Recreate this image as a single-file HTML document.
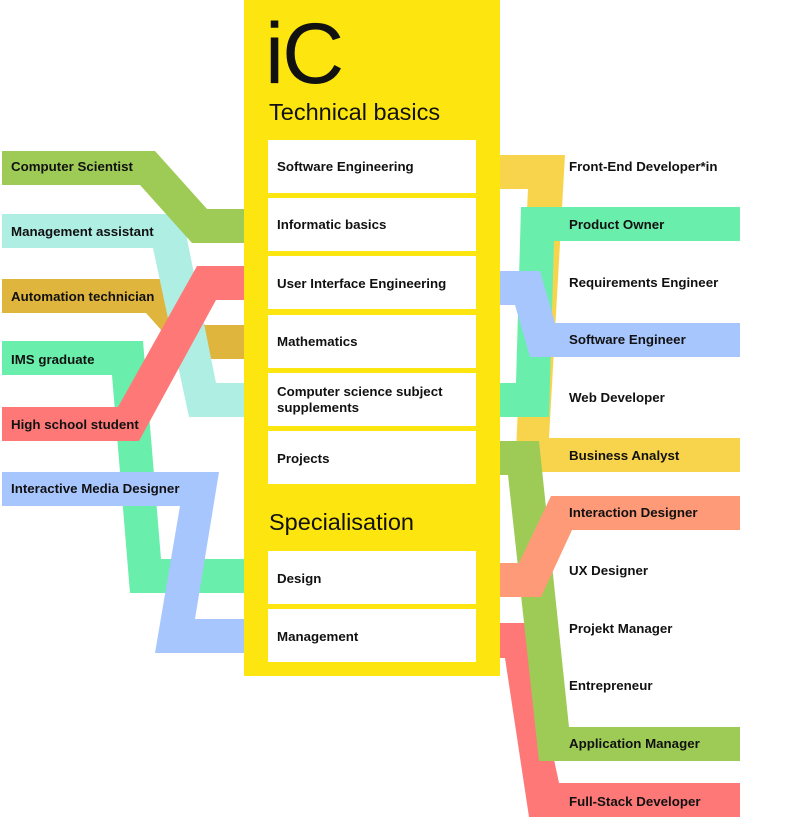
<!DOCTYPE html>
<html><head><meta charset="utf-8"><style>
body{margin:0;width:800px;height:826px;background:#fff;overflow:hidden;font-family:"Liberation Sans",sans-serif}
svg{position:absolute;left:0;top:0}
.t{font-family:"Liberation Sans",sans-serif;font-weight:bold;font-size:13.3px;fill:#111}
</style></head><body>
<svg width="800" height="826" viewBox="0 0 800 826">
<!-- left bands -->
<polygon fill="#e0b53e" points="2,279 164,279 205,325 244,325 244,359 187,359 146,313 2,313"/>
<polygon fill="#69eeab" points="2,341 143,341 161,559 244,559 244,593 130,593 112,375 2,375"/>
<polygon fill="#aeeee3" points="2,214 182,214 216,383 244,383 244,417 189,417 153,248 2,248"/>
<polygon fill="#9ecb55" points="2,151 155,151 207,209 244,209 244,243 192,243 140,185 2,185"/>
<polygon fill="#fe7878" points="2,407 118,407 197,266 244,266 244,300 216,300 139,441 2,441"/>
<polygon fill="#a8c6fe" points="2,472 219,472 195,619 244,619 244,653 155,653 180,506 2,506"/>
<!-- right bands -->
<polygon fill="#f8d44c" points="500,155 565,155 549,438 740,438 740,472 515,472 528,189 500,189"/>
<polygon fill="#fe7878" points="500,623 525,623 559,783 740,783 740,817 529,817 505,658 500,658"/>
<polygon fill="#69eeab" points="740,207 521,207 516,383 500,383 500,417 549,417 554,241 740,241"/>
<polygon fill="#a8c6fe" points="500,271 540,271 555,323 740,323 740,357 530,357 515,305 500,305"/>
<polygon fill="#9ecb55" points="500,441 539,441 569,727 740,727 740,761 539,761 508,475 500,475"/>
<polygon fill="#fe9a78" points="500,563 519,563 551,496 740,496 740,530 572,530 541,597 500,597"/>
<!-- yellow box -->
<rect x="244" y="0" width="256" height="676" fill="#fde50f"/>
<g fill="#fff">
<rect x="268" y="140" width="208" height="53"/>
<rect x="268" y="198" width="208" height="53"/>
<rect x="268" y="256" width="208" height="53"/>
<rect x="268" y="315" width="208" height="53"/>
<rect x="268" y="373" width="208" height="53"/>
<rect x="268" y="431" width="208" height="53"/>
<rect x="268" y="551" width="208" height="53"/>
<rect x="268" y="609" width="208" height="53"/>
</g>
<text x="265" y="83" font-family="Liberation Sans,sans-serif" font-size="86" fill="#111" letter-spacing="-2">iC</text>
<text x="269" y="120" font-family="Liberation Sans,sans-serif" font-size="23.5" fill="#111">Technical basics</text>
<text x="269" y="530" font-family="Liberation Sans,sans-serif" font-size="23.5" fill="#111">Specialisation</text>
<g class="t">
<text class="t" x="277" y="171">Software Engineering</text>
<text class="t" x="277" y="229">Informatic basics</text>
<text class="t" x="277" y="288">User Interface Engineering</text>
<text class="t" x="277" y="346">Mathematics</text>
<text class="t" x="277" y="396">Computer science subject</text>
<text class="t" x="277" y="412">supplements</text>
<text class="t" x="277" y="463">Projects</text>
<text class="t" x="277" y="583">Design</text>
<text class="t" x="277" y="641">Management</text>
<text class="t" x="11" y="171">Computer Scientist</text>
<text class="t" x="11" y="236">Management assistant</text>
<text class="t" x="11" y="301">Automation technician</text>
<text class="t" x="11" y="364">IMS graduate</text>
<text class="t" x="11" y="429">High school student</text>
<text class="t" x="11" y="493">Interactive Media Designer</text>
<text class="t" x="569" y="171">Front-End Developer*in</text>
<text class="t" x="569" y="229">Product Owner</text>
<text class="t" x="569" y="287">Requirements Engineer</text>
<text class="t" x="569" y="344">Software Engineer</text>
<text class="t" x="569" y="402">Web Developer</text>
<text class="t" x="569" y="460">Business Analyst</text>
<text class="t" x="569" y="517">Interaction Designer</text>
<text class="t" x="569" y="575">UX Designer</text>
<text class="t" x="569" y="633">Projekt Manager</text>
<text class="t" x="569" y="690">Entrepreneur</text>
<text class="t" x="569" y="748">Application Manager</text>
<text class="t" x="569" y="806">Full-Stack Developer</text>
</g>
</svg>
</body></html>
